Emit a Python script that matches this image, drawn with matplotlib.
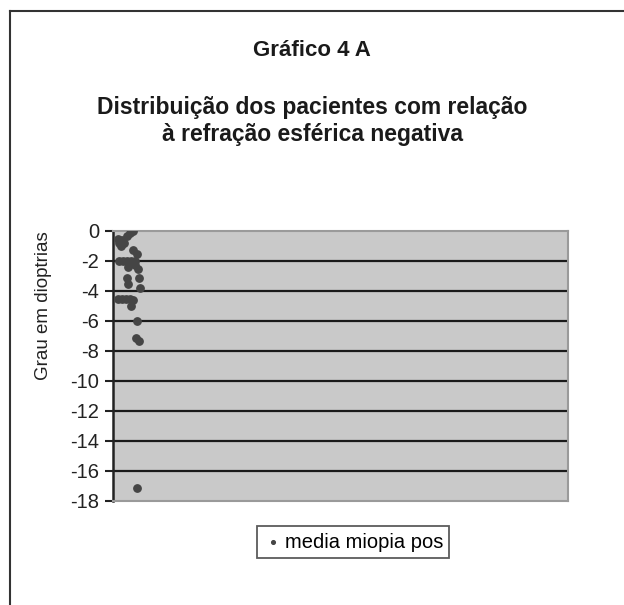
import matplotlib
matplotlib.use("Agg")
import matplotlib.pyplot as plt
from matplotlib.lines import Line2D

plt.rcParams["font.family"] = ["Liberation Sans", "DejaVu Sans"]

# patient index (horizontal spread) and spherical refraction in dioptres
patient_x = [4.4, 3.7, 3.1, 1.1, 2.0, 1.3, 2.4, 1.8, 4.4, 5.3,
             1.3, 2.2, 3.1, 4.0, 4.8, 3.3, 4.8, 5.5, 3.1, 5.7,
             3.3, 5.9, 1.1, 2.0, 2.9, 3.7, 4.4, 4.0, 5.3, 5.1,
             5.7, 5.3]
refraction = [0.0, -0.1, -0.35, -0.5, -0.6, -0.8, -0.8, -1.0, -1.25, -1.5,
              -2.0, -2.0, -2.0, -2.0, -2.0, -2.4, -2.25, -2.5, -3.1, -3.1,
              -3.5, -3.8, -4.5, -4.5, -4.5, -4.5, -4.6, -5.0, -6.0, -7.1,
              -7.3, -17.1]
y_ticks = list(range(0, -20, -2))

title = "Gráfico 4 A"
subtitle = "Distribuição dos pacientes com relação\nà refração esférica negativa"
y_label = "Grau em dioptrias"
series_name = "media miopia pos"

fig = plt.figure(figsize=(6.24, 6.05), dpi=100)
fig.patch.set_facecolor("white")

# outer frame (left and top edges only)
fig.add_artist(Line2D([10 / 624, 10 / 624], [0, 1 - 11 / 605],
                      color="#333333", lw=1.5, transform=fig.transFigure))
fig.add_artist(Line2D([10 / 624, 1], [1 - 11 / 605, 1 - 11 / 605],
                      color="#333333", lw=1.5, transform=fig.transFigure))

ax = fig.add_axes([113 / 624, 1 - 501 / 605, 455 / 624, 270 / 605])
ax.set_facecolor("#c9c9c9")
ax.scatter(patient_x, refraction, s=28, color="#454545", zorder=3,
           label=series_name)

ax.set_xlim(0, 100)
ax.set_ylim(-18, 0)
ax.set_yticks(y_ticks)
ax.set_yticklabels([str(t) for t in y_ticks], fontsize=14.5, color="#222222")
ax.set_xticks([])
ax.tick_params(axis="y", length=6, width=1.5, direction="out", pad=4,
               color="#222222")
for t in y_ticks[1:-1]:
    ax.axhline(t, color="#1a1a1a", lw=1.6, zorder=2)

for side in ["top", "right", "bottom"]:
    ax.spines[side].set_color("#9a9a9a")
    ax.spines[side].set_linewidth(1.5)
ax.spines["left"].set_color("#222222")
ax.spines["left"].set_linewidth(1.8)

fig.text(0.5, 1 - 50 / 605, title, ha="center", va="center",
         fontsize=16, fontweight="bold", color="#1a1a1a")
fig.text(0.5, 1 - 121 / 605, subtitle, ha="center", va="center",
         fontsize=16.5, fontweight="bold", color="#1a1a1a", linespacing=1.25)
fig.text(44 / 624, 1 - 306 / 605, y_label, rotation=90, ha="center",
         va="center", fontsize=13.5, color="#222222")

leg = fig.legend(loc="center", bbox_to_anchor=(353 / 624, 1 - 542 / 605),
                 fontsize=14.5, frameon=True, fancybox=False,
                 handletextpad=0.1, handlelength=1.0, markerscale=0.5,
                 borderpad=0.3, borderaxespad=0)
leg.get_frame().set_edgecolor("#333333")
leg.get_frame().set_linewidth(1.3)

fig.savefig("out.png", dpi=100, facecolor="white")
